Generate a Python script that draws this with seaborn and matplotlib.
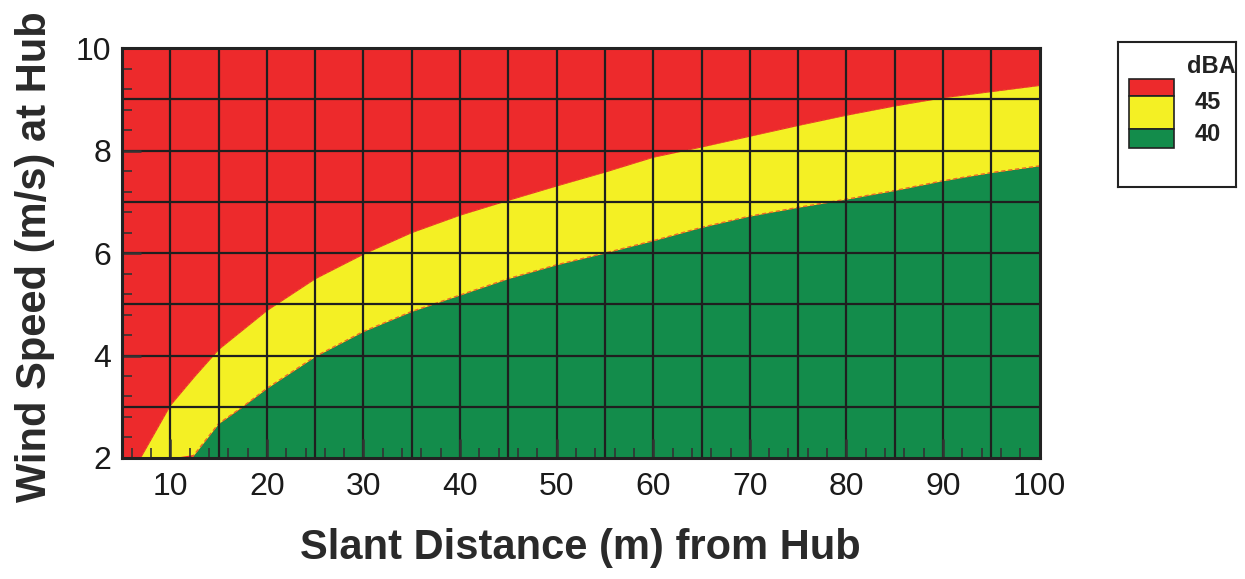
"""
    wind speed vs slant distance noise contour chart
"""

import numpy as np
import matplotlib
matplotlib.use("Agg")
import matplotlib.pyplot as plt
from matplotlib.patches import Rectangle
from matplotlib.ticker import MultipleLocator
import seaborn as sns

# boundary of the 45 dBA zone
dist_45 = [6.9, 10, 12.5, 15, 20, 25, 30, 35, 40, 45, 50, 55, 60, 65, 70, 75, 80, 85, 90, 95, 100]
wind_45 = [2.0, 3.03, 3.59, 4.12, 4.88, 5.5, 5.98, 6.4, 6.74, 7.03, 7.31, 7.58, 7.87, 8.07, 8.28, 8.49, 8.69, 8.87, 9.03, 9.15, 9.27]

# boundary of the 40 dBA zone
dist_40 = [12.2, 15, 17.5, 20, 25, 30, 35, 40, 45, 50, 55, 60, 65, 70, 75, 80, 85, 90, 95, 100]
wind_40 = [2.0, 2.67, 3.0, 3.36, 3.98, 4.47, 4.86, 5.18, 5.5, 5.77, 6.0, 6.24, 6.5, 6.72, 6.89, 7.05, 7.22, 7.41, 7.57, 7.7]

x_ticks = [10, 20, 30, 40, 50, 60, 70, 80, 90, 100]
y_ticks = [2, 4, 6, 8, 10]
legend_levels = ["45", "40"]
legend_title = "dBA"

RED = "#ED2A2C"
YELLOW = "#F4F024"
GREEN = "#138C4B"
GRID = "#1f1f1f"

sns.set_style("ticks")
plt.rcParams["font.family"] = ["Liberation Sans", "DejaVu Sans"]

fig = plt.figure(figsize=(12.45, 5.79), dpi=100)
ax = fig.add_axes([0.098, 0.209, 0.737, 0.708])
ax.set_axisbelow(False)

x_lo, x_hi = 5, 100
y_lo, y_hi = 2, 10

# red background everywhere, then yellow band and green zone on top
ax.fill_between([x_lo, x_hi], y_lo, y_hi, color=RED, lw=0, zorder=1)
lower_band = np.interp(dist_45, dist_40, wind_40, left=y_lo)
ax.fill_between(dist_45, lower_band, wind_45, color=YELLOW, lw=0, zorder=1.1)
ax.fill_between(dist_40, y_lo, wind_40, color=GREEN, lw=0, zorder=1.2)

# thin contour lines along the boundaries
sns.lineplot(x=dist_40, y=wind_40, ax=ax, color="#e86a2a", lw=1.0,
             linestyle=(0, (3, 2)), zorder=1.5, sort=False)
sns.lineplot(x=dist_45, y=wind_45, ax=ax, color="#e8702a", lw=0.6,
             linestyle=(0, (3, 2)), zorder=1.5, sort=False, alpha=0.6)

# grid every 5 m and every 1 m/s
for gx in np.arange(10, x_hi, 5):
    ax.axvline(gx, color=GRID, lw=1.6, zorder=2)
for gy in np.arange(3, y_hi, 1):
    ax.axhline(gy, color=GRID, lw=1.6, zorder=2)

ax.set_xlim(x_lo, x_hi)
ax.set_ylim(y_lo, y_hi)
ax.set_xticks(x_ticks)
ax.set_yticks(y_ticks)
ax.xaxis.set_minor_locator(MultipleLocator(2))
ax.yaxis.set_minor_locator(MultipleLocator(0.4))
ax.tick_params(which="major", direction="in", length=14, width=1.8, color="#333333",
               labelsize=23, labelcolor="#1a1a1a")
ax.tick_params(which="minor", direction="in", length=7, width=1.2, color="#333333")
ax.tick_params(axis="x", which="major", pad=10)
ax.tick_params(axis="y", which="major", pad=8)

for sp in ax.spines.values():
    sp.set_visible(True)
    sp.set_color("#222222")
    sp.set_linewidth(2.2)
    sp.set_zorder(3)

ax.set_xlabel("Slant Distance (m) from Hub", fontsize=30, fontweight="bold",
              color="#2a2a2a")
ax.set_ylabel("Wind Speed (m/s) at Hub", fontsize=30, fontweight="bold",
              color="#2a2a2a")
ax.xaxis.set_label_coords(0.5, -0.17)
ax.yaxis.set_label_coords(-0.073, 0.49)

# legend box on the right
leg = fig.add_axes([1118 / 1245, 1 - 187 / 579, 118 / 1245, 145 / 579])
leg.set_xlim(0, 1)
leg.set_ylim(0, 1)
leg.set_xticks([])
leg.set_yticks([])
for sp in leg.spines.values():
    sp.set_visible(True)
    sp.set_color("#222222")
    sp.set_linewidth(1.5)

swatches = [(RED, 0.628, 0.745), (YELLOW, 0.40, 0.628), (GREEN, 0.269, 0.40)]
for col, y0, y1 in swatches:
    leg.add_patch(Rectangle((0.093, y0), 0.382, y1 - y0, facecolor=col,
                            edgecolor="#222222", lw=1.2))
leg.text(1.0, 0.83, legend_title, ha="right", va="center", fontsize=17,
         fontweight="bold", color="#222222")
for lvl, ty in zip(legend_levels, [0.58, 0.36]):
    leg.text(0.76, ty, lvl, ha="center", va="center", fontsize=17,
             fontweight="bold", color="#222222")

fig.savefig("out.png", dpi=100)
